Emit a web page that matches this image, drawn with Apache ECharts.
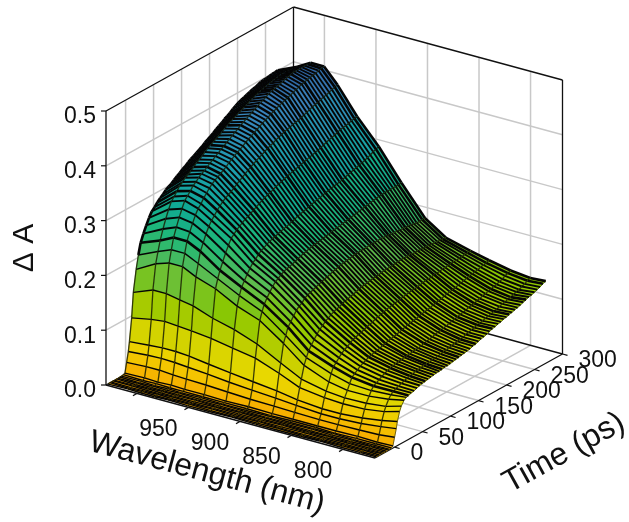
<!DOCTYPE html>
<html><head><meta charset="utf-8">
<style>html,body{margin:0;padding:0;background:#fff}#c{width:629px;height:522px}</style>
<script src="https://cdn.jsdelivr.net/npm/echarts@6/dist/echarts.min.js"></script>
</head><body><div id="c"></div>
<script>
const wavelengths=[1029,1010,997,984,971,952,931,909,886,866,842,824,803,784,769];
const times=[-33,-30,-27,-24,-21,-18,-15,-12,-9,-6,-3,0,3,5,9,12,17,21,25,30,35,40,45,50,55,60,65,70,75,80,85,90,95,100,105,110,115,120,125,130,135,140,145,150,155,160,165,170,175,180,185,190,195,200,205,210,215,220,225,230,235,240,245,250,255,260,265,270];
const deltaA=[
[.001,.002,.001,.001,.002,.001,.001,.002,.001,.001,.001,.002,.001,.001,.001],
[.002,.001,.002,.001,.001,.002,.001,.001,.001,.002,.001,.001,.002,.001,.001],
[.001,.001,.001,.002,.001,.001,.002,.001,.002,.001,.001,.001,.001,.002,.001],
[.002,.002,.001,.001,.002,.001,.001,.001,.001,.001,.002,.001,.001,.001,.002],
[.001,.001,.002,.001,.001,.001,.002,.001,.001,.002,.001,.001,.002,.001,.001],
[.002,.001,.001,.002,.001,.002,.001,.002,.001,.001,.001,.002,.001,.001,.001],
[.001,.002,.001,.001,.001,.001,.001,.001,.002,.001,.001,.001,.001,.002,.001],
[.002,.001,.002,.001,.002,.001,.002,.001,.001,.001,.002,.001,.002,.001,.002],
[.002,.002,.001,.002,.001,.002,.001,.001,.002,.001,.001,.002,.001,.001,.001],
[.003,.002,.003,.002,.002,.002,.002,.002,.001,.002,.002,.001,.002,.002,.002],
[.004,.005,.004,.005,.004,.004,.003,.004,.003,.003,.003,.003,.004,.003,.004],
[.022,.024,.024,.022,.021,.020,.018,.016,.015,.014,.013,.013,.014,.015,.018],
[.040,.043,.044,.043,.041,.038,.034,.031,.028,.025,.022,.022,.024,.028,.032],
[.057,.060,.062,.062,.060,.055,.050,.045,.040,.034,.030,.030,.033,.038,.044],
[.098,.105,.108,.106,.104,.100,.093,.086,.070,.054,.048,.046,.047,.052,.060],
[.143,.157,.157,.152,.148,.135,.125,.110,.087,.068,.058,.055,.056,.060,.068],
[.182,.202,.210,.210,.198,.186,.165,.150,.120,.090,.072,.066,.066,.070,.076],
[.206,.222,.232,.232,.220,.202,.182,.164,.132,.102,.085,.076,.074,.076,.079],
[.226,.240,.252,.252,.240,.215,.195,.175,.145,.112,.095,.085,.080,.080,.080],
[.240,.258,.268,.266,.253,.228,.204,.184,.152,.120,.100,.089,.083,.082,.082],
[.252,.274,.283,.279,.266,.241,.213,.192,.160,.127,.106,.093,.086,.084,.083],
[.263,.288,.296,.291,.277,.252,.221,.199,.167,.134,.111,.097,.089,.086,.085],
[.272,.300,.308,.300,.285,.262,.228,.205,.172,.140,.115,.100,.092,.088,.087],
[.277,.306,.314,.306,.291,.267,.232,.208,.175,.144,.118,.102,.094,.090,.088],
[.283,.313,.320,.314,.298,.272,.238,.212,.181,.149,.122,.105,.096,.091,.089],
[.288,.320,.327,.320,.303,.276,.242,.215,.184,.152,.125,.106,.097,.092,.090],
[.292,.324,.331,.326,.308,.279,.244,.217,.186,.155,.126,.108,.098,.094,.091],
[.297,.329,.336,.331,.312,.283,.248,.218,.188,.158,.129,.109,.099,.094,.092],
[.300,.332,.340,.335,.315,.285,.250,.220,.190,.160,.130,.110,.100,.095,.093],
[.303,.336,.343,.338,.318,.288,.252,.222,.192,.161,.132,.112,.101,.096,.093],
[.307,.340,.347,.341,.322,.291,.253,.224,.194,.164,.134,.113,.101,.096,.094],
[.311,.345,.351,.345,.326,.294,.256,.226,.196,.166,.136,.115,.102,.097,.095],
[.314,.348,.354,.348,.329,.297,.257,.228,.197,.167,.137,.116,.103,.098,.095],
[.318,.352,.358,.353,.333,.300,.259,.229,.199,.169,.140,.117,.104,.098,.096],
[.321,.356,.361,.356,.336,.302,.260,.231,.201,.170,.141,.118,.104,.099,.097],
[.325,.360,.365,.360,.340,.305,.262,.232,.202,.172,.143,.120,.105,.100,.098],
[.328,.363,.368,.363,.343,.306,.264,.233,.204,.174,.144,.121,.107,.101,.099],
[.331,.366,.372,.366,.346,.309,.265,.234,.205,.175,.146,.123,.108,.102,.100],
[.334,.369,.375,.369,.349,.311,.268,.235,.206,.176,.147,.124,.109,.103,.101],
[.337,.372,.379,.373,.352,.313,.269,.236,.207,.177,.148,.125,.110,.104,.102],
[.340,.375,.382,.376,.354,.315,.271,.237,.208,.178,.149,.126,.112,.105,.103],
[.344,.379,.385,.379,.357,.317,.272,.238,.209,.179,.150,.127,.113,.106,.105],
[.347,.382,.389,.382,.360,.319,.274,.239,.210,.180,.151,.129,.114,.107,.106],
[.350,.385,.392,.385,.362,.320,.275,.240,.210,.180,.152,.130,.115,.108,.108],
[.353,.388,.395,.388,.364,.322,.277,.241,.211,.181,.153,.131,.116,.110,.110],
[.357,.390,.398,.391,.367,.323,.278,.242,.211,.182,.154,.132,.118,.111,.111],
[.360,.393,.401,.394,.369,.325,.279,.243,.211,.182,.155,.133,.119,.113,.113],
[.363,.395,.404,.396,.371,.326,.281,.244,.212,.183,.155,.135,.120,.114,.115],
[.367,.398,.407,.399,.373,.328,.282,.245,.212,.183,.156,.136,.121,.116,.117],
[.370,.400,.410,.401,.375,.329,.284,.246,.212,.184,.157,.137,.123,.117,.118],
[.373,.403,.412,.404,.376,.331,.285,.247,.212,.184,.158,.138,.124,.118,.120],
[.377,.405,.415,.406,.378,.332,.286,.248,.213,.185,.159,.140,.125,.120,.121],
[.380,.408,.418,.408,.379,.334,.287,.249,.212,.185,.159,.141,.127,.121,.123],
[.383,.410,.420,.410,.380,.335,.288,.250,.212,.185,.160,.142,.128,.122,.124],
[.385,.411,.421,.412,.382,.337,.289,.251,.211,.185,.161,.143,.129,.124,.126],
[.387,.413,.423,.414,.384,.339,.291,.252,.211,.184,.161,.144,.131,.125,.127],
[.389,.414,.424,.416,.386,.341,.293,.253,.210,.184,.162,.146,.132,.127,.129],
[.391,.416,.426,.418,.388,.343,.294,.254,.210,.184,.163,.147,.134,.129,.130],
[.393,.417,.428,.420,.390,.344,.296,.255,.209,.184,.163,.148,.135,.130,.132],
[.394,.418,.429,.422,.392,.346,.297,.256,.209,.183,.164,.150,.137,.132,.134],
[.396,.419,.431,.423,.393,.348,.299,.256,.208,.183,.164,.151,.138,.133,.136],
[.398,.420,.432,.425,.395,.350,.300,.257,.208,.183,.165,.152,.140,.135,.138],
[.399,.420,.432,.426,.397,.351,.302,.257,.207,.182,.165,.153,.141,.137,.139],
[.399,.420,.432,.427,.398,.352,.304,.257,.206,.182,.166,.154,.143,.138,.141],
[.400,.419,.432,.428,.400,.353,.306,.257,.205,.181,.166,.156,.145,.141,.143],
[.401,.419,.432,.430,.402,.355,.309,.257,.205,.181,.167,.157,.148,.143,.145],
[.401,.418,.432,.431,.404,.356,.311,.257,.205,.180,.167,.158,.150,.146,.148],
[.402,.418,.432,.432,.405,.357,.313,.258,.205,.180,.168,.160,.152,.148,.150]
];
const wavelengthTicks=[1000,950,900,850,800];
const wavelengthLabels=[950,900,850,800];
const timeTicks=[0,50,100,150,200,250,300];
const zTicks=[0,0.1,0.2,0.3,0.4,0.5];
const colorStops=[0,0.03,0.06,0.1,0.15,0.2,0.25,0.3,0.35,0.4,0.43];
const colorValues=['#f7a800','#f4c400','#e8d800','#c4cf00','#8cc800','#5cbc50','#1fb878','#0fa896','#1f9cb0','#3a84bc','#2f66a4'];

const L_MAX=1030,L_MIN=769,T_MIN=-35,T_MAX=300,Z_MAX=0.5;
function project(l,t,z){
  const u=(L_MAX-l)/(L_MAX-L_MIN),v=(t-T_MIN)/(T_MAX-T_MIN);
  return [106+269*u+187.5*v, 385+73*u-104*v-548*z];
}
function shade(z){
  for(let i=1;i<colorStops.length;i++){
    if(z<=colorStops[i]){
      const f=(z-colorStops[i-1])/(colorStops[i]-colorStops[i-1]);
      return echarts.color.lerp(f,[colorValues[i-1],colorValues[i]]);
    }
  }
  return colorValues[colorValues.length-1];
}
const GRAY='#c8c8c8',BLACK='#111';
const grayLines=[],blackLines=[];
function seg(arr,a,b,w){arr.push({a,b,w});}
for(const t of timeTicks.slice(0,6)){
  seg(grayLines,[L_MAX,t,0],[L_MAX,t,Z_MAX],1.5);
  seg(grayLines,[L_MAX,t,0],[L_MIN,t,0],1.5);
}
for(const l of wavelengthTicks){
  seg(grayLines,[l,T_MAX,0],[l,T_MAX,Z_MAX],1.5);
  seg(grayLines,[l,T_MIN,0],[l,T_MAX,0],1.5);
}
for(const z of zTicks.slice(1,5)){
  seg(grayLines,[L_MAX,T_MIN,z],[L_MAX,T_MAX,z],1.5);
  seg(grayLines,[L_MAX,T_MAX,z],[L_MIN,T_MAX,z],1.5);
}
seg(blackLines,[L_MAX,T_MIN,0],[L_MAX,T_MIN,Z_MAX],1.3);
seg(blackLines,[L_MAX,T_MIN,Z_MAX],[L_MAX,T_MAX,Z_MAX],1.3);
seg(blackLines,[L_MAX,T_MAX,0],[L_MAX,T_MAX,Z_MAX],1.3);
seg(blackLines,[L_MAX,T_MAX,Z_MAX],[L_MIN,T_MAX,Z_MAX],1.3);
seg(blackLines,[L_MIN,T_MAX,Z_MAX],[L_MIN,T_MAX,0],1.3);
seg(blackLines,[L_MAX,T_MAX,0],[L_MIN,T_MAX,0],1.3);
seg(blackLines,[L_MAX,T_MIN,0],[L_MAX,T_MAX,0],1.3);
seg(blackLines,[L_MAX,T_MIN,0],[L_MIN,T_MIN,0],1.3);
seg(blackLines,[L_MIN,T_MIN,0],[L_MIN,T_MAX,0],1.3);

function linesRender(arr,color){
  return function(params,api){
    const s=arr[params.dataIndex];
    const a=api.coord(project(...s.a)),b=api.coord(project(...s.b));
    return {type:'line',shape:{x1:a[0],y1:a[1],x2:b[0],y2:b[1]},style:{stroke:color,lineWidth:s.w}};
  };
}
const cells=[];
for(let r=times.length-2;r>=0;r--){
  for(let c=0;c<wavelengths.length-1;c++) cells.push([r,c]);
}
const lastRow=times.length-2;
function cellRender(params,api){
  const [r,c]=cells[params.dataIndex];
  const P=(i,j)=>api.coord(project(wavelengths[j],times[i],deltaA[i][j]));
  const p00=P(r,c),p01=P(r,c+1),p11=P(r+1,c+1),p10=P(r+1,c);
  const zm=(deltaA[r][c]+deltaA[r][c+1]+deltaA[r+1][c]+deltaA[r+1][c+1])/4;
  const fill=shade(zm);
  const far=r+1;
  const rowWidth=r===lastRow?2.6:(far>=18&&(far-18)%6===0)?2.6:(far>=18?1.9:1.4);
  const ln=(a,b,col,w)=>({type:'line',shape:{x1:a[0],y1:a[1],x2:b[0],y2:b[1]},style:{stroke:col,lineWidth:w}});
  const kids=[
    {type:'polygon',shape:{points:[p00,p01,p11,p10]},style:{fill:fill,stroke:fill,lineWidth:0.6}},
    ln(p00,p10,c===0&&r>16?'#050505':'rgba(25,30,0,0.85)',c===0&&r>16?2.6:1.3),
    ln(p10,p11,'#050505',rowWidth)
  ];
  if(r===0) kids.push(ln(p00,p01,'#050505',1.5));
  if(c===wavelengths.length-2) kids.push(ln(p01,p11,'rgba(25,30,0,0.6)',1));
  return {type:'group',children:kids};
}
const tickLines=[];
const texts=[];
const fam='"Liberation Sans",Arial,sans-serif';
for(const l of wavelengthTicks){const p=project(l,T_MIN,0);tickLines.push([p,[p[0]-4,p[1]+2.3]]);}
for(const t of timeTicks){const p=project(L_MIN,t,0);tickLines.push([p,[p[0]+5,p[1]+1.4]]);}
for(const z of zTicks){const p=project(L_MAX,T_MIN,z);tickLines.push([p,[p[0]-5,p[1]]]);}
for(const l of wavelengthLabels){const p=project(l,T_MIN,0);texts.push({t:String(l),x:p[0]-30,y:p[1]+22,a:'center',s:23});}
for(const t of timeTicks){const p=project(L_MIN,t,0);texts.push({t:String(t),x:p[0]+16,y:p[1]+7,a:'left',s:23});}
for(const z of zTicks){const p=project(L_MAX,T_MIN,z);texts.push({t:z.toFixed(1),x:96,y:p[1]+6,a:'right',s:23});}
const titles=[
 {t:'Wavelength (nm)',x:207,y:473,r:-15,s:32},
 {t:'Time (ps)',x:564,y:453,r:29,s:32},
 {t:'\u0394 A',x:25,y:248,r:90,s:30}
];
const base={type:'custom',coordinateSystem:'cartesian2d',silent:true,clip:false,animation:false,progressive:0};
const chart=echarts.init(document.getElementById('c'),null,{renderer:'canvas'});
chart.setOption({
  animation:false,
  grid:{left:0,right:0,top:0,bottom:0},
  xAxis:{type:'value',min:0,max:629,show:false},
  yAxis:{type:'value',min:0,max:522,inverse:true,show:false},
  series:[
   {...base,data:grayLines.map((_,i)=>i),renderItem:linesRender(grayLines,GRAY),encode:{x:0,y:0},z:1},
   {...base,data:blackLines.map((_,i)=>i),renderItem:linesRender(blackLines,BLACK),encode:{x:0,y:0},z:2},
   {...base,data:cells.map((_,i)=>i),renderItem:cellRender,encode:{x:0,y:0},z:3},
   {...base,data:tickLines.map((_,i)=>i),encode:{x:0,y:0},z:4,renderItem(params,api){
      const s=tickLines[params.dataIndex],a=api.coord(s[0]),b=api.coord(s[1]);
      return {type:'line',shape:{x1:a[0],y1:a[1],x2:b[0],y2:b[1]},style:{stroke:BLACK,lineWidth:1.2}};
   }},
   {...base,data:texts.map((_,i)=>i),encode:{x:0,y:0},z:5,renderItem(params,api){
      const s=texts[params.dataIndex],a=api.coord([s.x,s.y]);
      return {type:'text',x:a[0],y:a[1],style:{text:s.t,fill:'#111',font:s.s+'px '+fam,textAlign:s.a,textVerticalAlign:'middle'}};
   }},
   {...base,data:titles.map((_,i)=>i),encode:{x:0,y:0},z:5,renderItem(params,api){
      const s=titles[params.dataIndex],a=api.coord([s.x,s.y]);
      return {type:'text',x:a[0],y:a[1],rotation:s.r*Math.PI/180,style:{text:s.t,fill:'#111',font:s.s+'px '+fam,textAlign:'center',textVerticalAlign:'middle'}};
   }}
  ]
});
</script></body></html>
